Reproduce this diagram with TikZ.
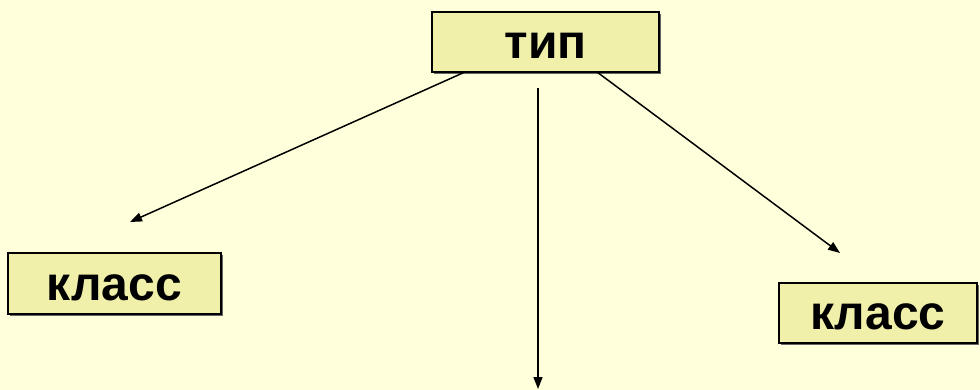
\documentclass[tikz,border=0pt]{standalone}
\usepackage{fontspec}
\setmainfont{Liberation Sans}
\usetikzlibrary{arrows.meta,shadows}
\definecolor{bg}{RGB}{255,255,219}
\definecolor{boxfill}{RGB}{240,240,170}
\tikzset{
  termbox/.style={draw=black, line width=1.5pt, fill=boxfill, rectangle, inner sep=0pt,
    font=\bfseries\fontsize{48}{56}\selectfont, text height=33pt, text depth=0pt,
    drop shadow={shadow xshift=2pt, shadow yshift=-2pt, fill=black!60, opacity=1}},
  conn/.style={line width=1.5pt, -{Triangle[length=12pt,width=9pt]}}
}
\begin{document}
\begin{tikzpicture}[x=1pt,y=-1pt]
\fill[bg] (0,0) rectangle (980,390);
\useasboundingbox (0,0) rectangle (980,390);
\node[termbox, minimum width=227pt, minimum height=60pt] (tip) at (545.5,42) {тип};
\node[termbox, minimum width=213pt, minimum height=61pt] (kl1) at (114.5,283.5) {класс};
\node[termbox, minimum width=198pt, minimum height=60pt] (kl2) at (878,313) {класс};
\coordinate (a1s) at (465,72);
\coordinate (a1e) at (130,222);
\coordinate (a2s) at (597,72);
\coordinate (a2e) at (840,253);
\coordinate (a3s) at (538,88);
\coordinate (a3e) at (538,389);
\draw[conn] (a1s) -- (a1e);
\draw[conn] (a2s) -- (a2e);
\draw[conn] (a3s) -- (a3e);
\end{tikzpicture}
\end{document}
